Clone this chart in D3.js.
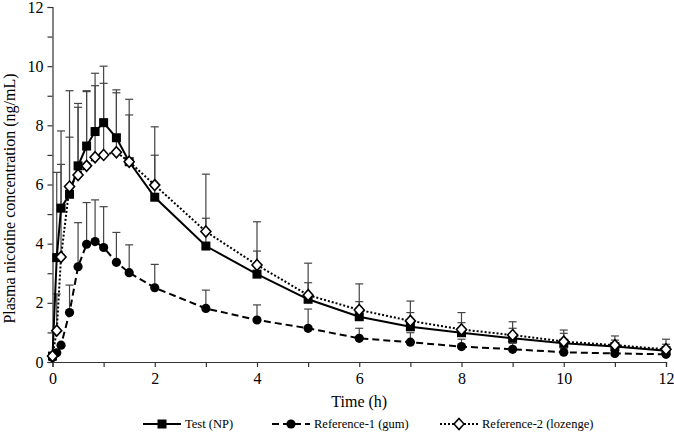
<!DOCTYPE html>
<html><head><meta charset="utf-8">
<script src="https://cdn.jsdelivr.net/npm/d3@7"></script>
<style>body{margin:0;background:#fff}svg{display:block}text{font-family:"Liberation Serif","Times New Roman",serif;fill:#000}</style>
</head><body><svg id="c" width="674" height="433"></svg>
<script>
const times = [0, 0.083, 0.167, 0.333, 0.5, 0.667, 0.833, 1, 1.25, 1.5, 2, 3, 4, 5, 6, 7, 8, 9, 10, 11, 12];
const testMean = [0.2, 3.53, 5.2, 5.67, 6.63, 7.3, 7.79, 8.09, 7.58, 6.77, 5.57, 3.92, 2.97, 2.12, 1.53, 1.19, 0.99, 0.8, 0.63, 0.52, 0.38];
const testUpper = [0.2, 6.41, 7.81, 7.6, 8.61, 9.14, 9.34, 9.42, 9.1, 8.35, 6.99, 4.86, 3.75, 2.68, 2.04, 1.67, 1.33, 1.14, 0.97, 0.74, 0.6];
const ref1Mean = [0.15, 0.31, 0.57, 1.67, 3.22, 3.98, 4.07, 3.87, 3.37, 3.02, 2.51, 1.81, 1.42, 1.14, 0.8, 0.67, 0.52, 0.43, 0.33, 0.29, 0.26];
const ref1Upper = [0.15, 0.31, 0.57, 2.6, 4.71, 5.39, 5.48, 5.25, 4.38, 3.96, 3.3, 2.43, 1.93, 1.79, 1.14, 0.99, 0.77, 0.63, 0.45, 0.38, 0.33];
const ref2Mean = [0.2, 1.06, 3.55, 5.93, 6.32, 6.63, 6.92, 7.0, 7.09, 6.77, 5.98, 4.41, 3.28, 2.26, 1.76, 1.39, 1.1, 0.91, 0.69, 0.57, 0.43];
const ref2Upper = [0.2, 2.3, 6.68, 9.17, 8.74, 9.17, 9.76, 10.0, 9.2, 8.88, 7.95, 6.35, 4.74, 3.34, 2.64, 2.06, 1.67, 1.36, 1.08, 0.88, 0.77];
const seriesNames = ["Test (NP)", "Reference-1 (gum)", "Reference-2 (lozenge)"];
const xTicks = [0,1,2,3,4,5,6,7,8,9,10,11,12];
const yTicks = [0,1,2,3,4,5,6,7,8,9,10,11,12];
const xLabel = "Time (h)";
const yLabel = "Plasma nicotine concentration (ng/mL)";

const FONT = '"Liberation Serif","Times New Roman",serif';
const svg = d3.select("#c");
const L = 52.5, R = 666, T = 7, B = 362;
const x = d3.scaleLinear().domain([0, 12]).range([L, R]);
const y = d3.scaleLinear().domain([0, 12]).range([B, T]);

const series = [
  {name: seriesNames[0], mean: testMean, upper: testUpper, dash: null, marker: "square"},
  {name: seriesNames[1], mean: ref1Mean, upper: ref1Upper, dash: "7,4", marker: "circle"},
  {name: seriesNames[2], mean: ref2Mean, upper: ref2Upper, dash: "2,2", marker: "diamond"}
];

// axes
const xAxis = svg.append("g").attr("transform", `translate(0,${B})`)
  .call(d3.axisBottom(x).tickValues(xTicks).tickSize(5).tickFormat(d => d % 2 === 0 ? d : ""));
const yAxis = svg.append("g").attr("transform", `translate(${L},0)`)
  .call(d3.axisLeft(y).tickValues(yTicks).tickSize(5).tickFormat(d => d % 2 === 0 ? d : ""));
[xAxis, yAxis].forEach(a => {
  a.attr("font-family", FONT).attr("font-size", 16);
  a.select(".domain").attr("stroke", "#333").attr("stroke-width", 1.2);
  a.selectAll(".tick line").attr("stroke", "#333").attr("stroke-width", 1.2);
  a.selectAll(".tick text").attr("font-family", FONT).attr("font-size", 16).attr("fill", "#000");
});
xAxis.selectAll(".tick text").attr("dy", "0.9em");
yAxis.selectAll(".tick text").attr("x", -9);

svg.append("text").attr("x", (L + R) / 2).attr("y", 407).attr("text-anchor", "middle")
  .attr("font-family", FONT).attr("font-size", 16).text(xLabel);
svg.append("text").attr("transform", `translate(15,${(T + B) / 2 + 14}) rotate(-90)`).attr("text-anchor", "middle")
  .attr("font-family", FONT).attr("font-size", 16).text(yLabel);

// error bars
const eb = svg.append("g");
series.forEach(s => {
  times.forEach((t, i) => {
    if (s.upper[i] <= s.mean[i]) return;
    const cx = x(t);
    eb.append("line").attr("x1", cx).attr("x2", cx).attr("y1", y(s.mean[i])).attr("y2", y(s.upper[i]))
      .attr("stroke", "#444").attr("stroke-width", 1.2);
    eb.append("line").attr("x1", cx - 4).attr("x2", cx + 4).attr("y1", y(s.upper[i])).attr("y2", y(s.upper[i]))
      .attr("stroke", "#444").attr("stroke-width", 1.2);
  });
});

function drawMarker(g, type, cx, cy) {
  if (type === "square") g.append("rect").attr("x", cx - 4.5).attr("y", cy - 4.5).attr("width", 9).attr("height", 9).attr("fill", "#000");
  else if (type === "circle") g.append("circle").attr("cx", cx).attr("cy", cy).attr("r", 4.6).attr("fill", "#000");
  else g.append("path").attr("d", `M${cx},${cy - 5.5}L${cx + 5},${cy}L${cx},${cy + 5.5}L${cx - 5},${cy}Z`)
    .attr("fill", "#fff").attr("stroke", "#000").attr("stroke-width", 1.6);
}

const line = d3.line().x(d => x(d[0])).y(d => y(d[1]));
series.forEach(s => {
  const g = svg.append("g");
  const pts = times.map((t, i) => [t, s.mean[i]]);
  g.append("path").attr("d", line(pts)).attr("fill", "none").attr("stroke", "#000").attr("stroke-width", 2)
    .attr("stroke-dasharray", s.dash);
  pts.forEach(p => drawMarker(g, s.marker, x(p[0]), y(p[1])));
});

// legend
const legX = [143, 272, 440];
series.forEach((s, i) => {
  const g = svg.append("g").attr("transform", `translate(${legX[i]},424)`);
  g.append("line").attr("x1", 0).attr("x2", 38).attr("y1", 0).attr("y2", 0).attr("stroke", "#000").attr("stroke-width", 2)
    .attr("stroke-dasharray", s.dash);
  drawMarker(g, s.marker, 19, 0);
  g.append("text").attr("x", 42).attr("y", 0).attr("dy", "0.35em")
    .attr("font-family", FONT).attr("font-size", 12.5).text(s.name);
});
</script></body></html>
